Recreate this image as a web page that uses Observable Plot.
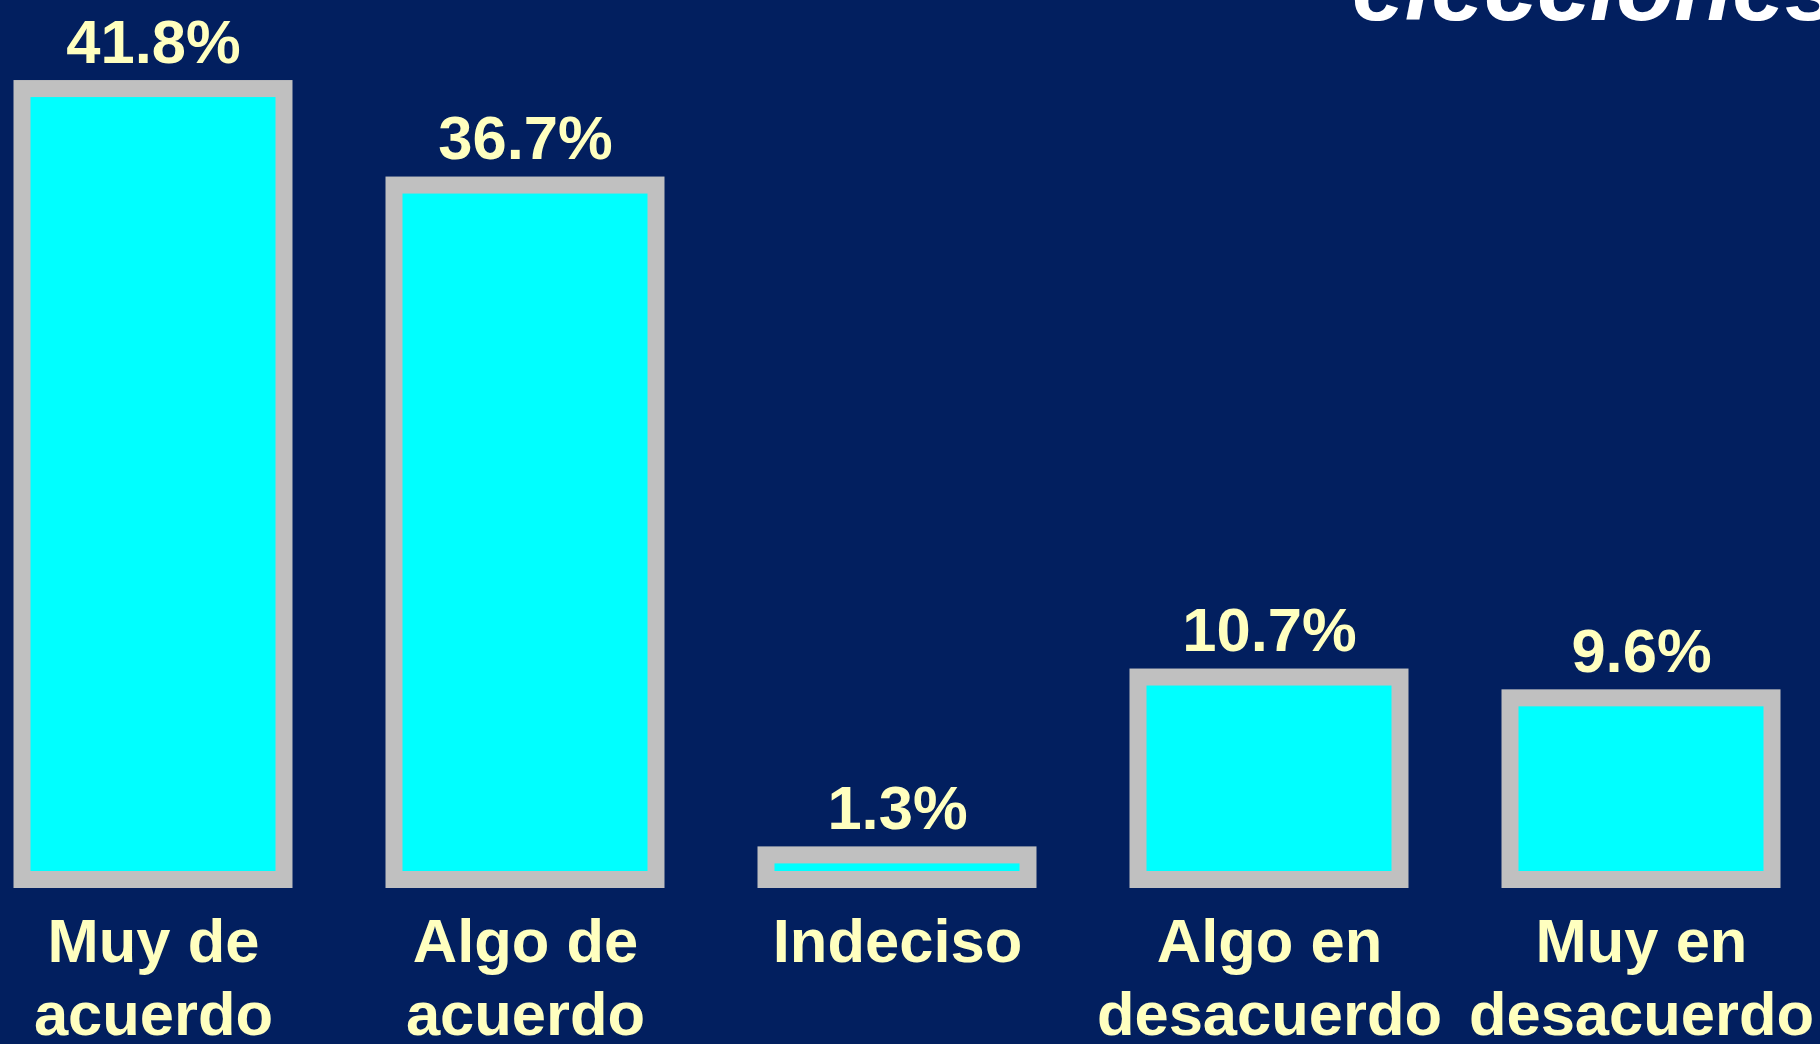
<!DOCTYPE html>
<html>
<head>
<meta charset="utf-8">
<script src="https://cdn.jsdelivr.net/npm/d3@7"></script>
<script src="https://cdn.jsdelivr.net/npm/@observablehq/plot@0.6"></script>
<style>
  html, body { margin: 0; padding: 0; background: #021f5f; overflow: hidden; }
  #wrap { position: relative; width: 1820px; height: 1044px; }
  #title { position: absolute; left: 1352px; top: -60px; margin: 0; font: italic bold 95px "Liberation Sans", Arial, sans-serif; line-height: 95px; color: #ffffff; white-space: nowrap; }
  #chart { position: absolute; left: 0; top: 0; }
</style>
</head>
<body>
<div id="wrap">
  <div id="chart"></div>
  <div id="title">elecciones</div>
</div>
<script>
const categories = ["Muy de acuerdo", "Algo de acuerdo", "Indeciso", "Algo en desacuerdo", "Muy en desacuerdo"];
const values = [41.8, 36.7, 1.3, 10.7, 9.6];
const tickLabels = ["Muy de\nacuerdo", "Algo de\nacuerdo", "Indeciso", "Algo en\ndesacuerdo", "Muy en\ndesacuerdo"];

const data = categories.map((c, i) => ({cat: c, value: values[i]}));
const labelOf = new Map(categories.map((c, i) => [c, tickLabels[i]]));

const bg = "#021f5f";
const yellow = "#ffffbf";
const font = "'Liberation Sans', Arial, sans-serif";
const fs = 61.5;

const chart = Plot.plot({
  width: 1820,
  height: 1044,
  marginLeft: 20,
  marginRight: 46,
  marginTop: 28,
  marginBottom: 164.5,
  style: {background: bg, color: yellow, fontFamily: font, fontWeight: "bold", overflow: "visible"},
  x: {domain: categories, paddingInner: 0.2945, paddingOuter: 0, align: 0.5},
  y: {domain: [0, 45], axis: null},
  marks: [
    Plot.barY(data, {x: "cat", y: "value", fill: "#00ffff", stroke: "#c0c0c0", strokeWidth: 17}),
    Plot.text(data, {
      x: "cat", y: "value",
      text: d => d.value.toFixed(1) + "%",
      dy: -26.5, lineAnchor: "bottom",
      fontSize: fs, fontWeight: "bold", fill: yellow, fontFamily: font
    }),
    Plot.axisX({
      tickSize: 0, tickPadding: 30,
      tickFormat: d => labelOf.get(d),
      fontSize: fs, fontWeight: "bold", fill: yellow, fontFamily: font,
      lineHeight: 73 / fs, label: null
    })
  ]
});
document.getElementById("chart").appendChild(chart);
</script>
</body>
</html>
